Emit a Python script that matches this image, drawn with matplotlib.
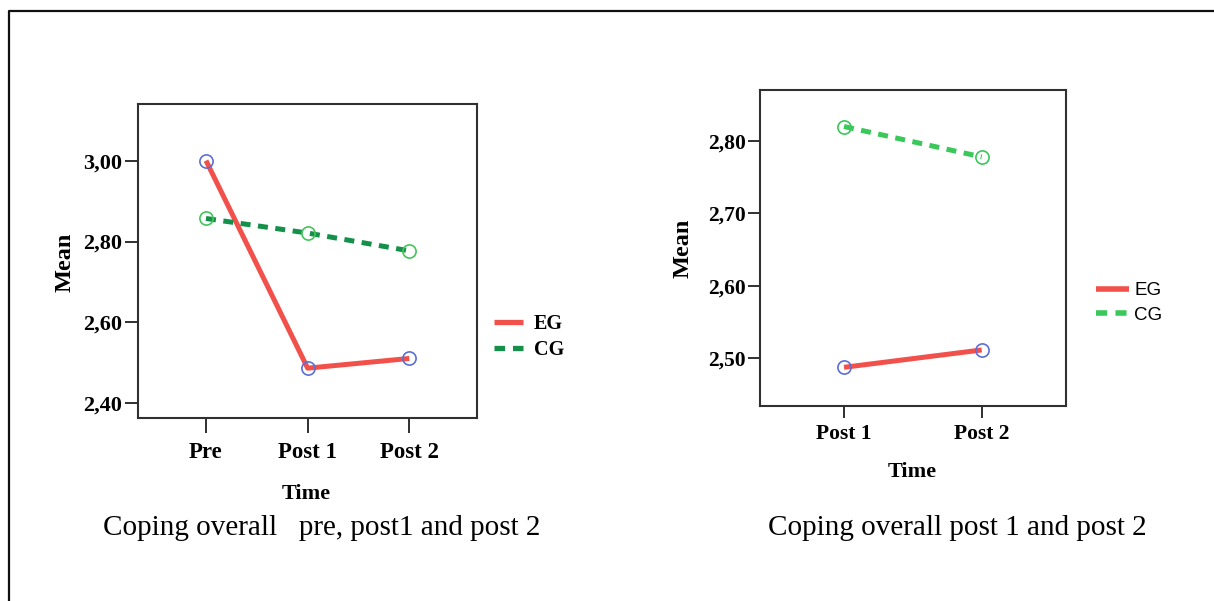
import matplotlib
matplotlib.use("Agg")
import matplotlib.pyplot as plt
from matplotlib.lines import Line2D

# ---- data ----
times_left = ["Pre", "Post 1", "Post 2"]
eg_left = [3.000, 2.487, 2.511]
cg_left = [2.857, 2.821, 2.777]
yticks_left = [2.40, 2.60, 2.80, 3.00]

times_right = ["Post 1", "Post 2"]
eg_right = [2.487, 2.511]
cg_right = [2.820, 2.778]
yticks_right = [2.50, 2.60, 2.70, 2.80]

series_names = ["EG", "CG"]
caption_left = "Coping overall   pre, post1 and post 2"
caption_right = "Coping overall post 1 and post 2"

W, H = 1214, 601
DPI = 100
fig = plt.figure(figsize=(W / DPI, H / DPI), dpi=DPI)

def fx(px):
    return px / W

def fy(py):
    return 1 - py / H

RED = "#f2514b"
BLUE = "#5b6fd6"
GREEN_DARK = "#14904a"
GREEN_LIGHT = "#45c45c"
GREEN_R = "#3ac85a"
SERIF = "Liberation Serif"
SANS = "Liberation Sans"
SPINE = "#303030"

def fmt(v):
    return f"{v:.2f}".replace(".", ",")

# ---- border (cropped table frame) ----
fig.add_artist(Line2D([fx(9.3), fx(9.3), fx(1214)], [fy(601), fy(10.7), fy(10.7)],
                      transform=fig.transFigure, color="#111111", lw=1.6))

# ---- left panel ----
axL = fig.add_axes([fx(138.3), fy(417.5), fx(477.3) - fx(138.3), fy(104) - fy(417.5)])
xl = list(range(len(times_left)))
axL.plot(xl, eg_left, color=RED, lw=3.6, solid_capstyle="butt", zorder=3)
axL.plot(xl, cg_left, color=GREEN_DARK, lw=3.6, dashes=(2.0, 1.5), zorder=3)
axL.plot(xl, eg_left, ls="none", marker="o", ms=9.5, mfc="none", mec=BLUE, mew=1.2, zorder=4)
axL.plot(xl, cg_left, ls="none", marker="o", ms=9.5, mfc="none", mec=GREEN_LIGHT, mew=1.2, zorder=4)
axL.set_xlim(-0.666, 2.669)
axL.set_ylim(2.365, 3.140)
axL.set_xticks(xl)
axL.set_xticklabels(times_left, fontfamily=SERIF, fontweight="bold", fontsize=16.5)
axL.set_yticks(yticks_left)
axL.set_yticklabels([fmt(v) for v in yticks_left], fontfamily=SERIF, fontweight="bold", fontsize=16)
axL.tick_params(axis="x", length=10.5, width=1.4, color=SPINE, pad=7.5)
axL.tick_params(axis="y", length=9.5, width=1.4, color=SPINE, pad=2)
for s in axL.spines.values():
    s.set_color(SPINE)
    s.set_linewidth(1.5)

axL.legend(
    handles=[Line2D([], [], color=RED, lw=3.8, solid_capstyle="butt"),
             Line2D([], [], color=GREEN_DARK, lw=3.8, dashes=(2.0, 1.5))],
    labels=series_names, loc="center left", bbox_to_anchor=(fx(493.7), fy(336.8)),
    bbox_transform=fig.transFigure, frameon=False, borderpad=0, borderaxespad=0,
    handlelength=1.45, handletextpad=0.55, labelspacing=0.3,
    prop={"family": SERIF, "weight": "bold", "size": 14.5})

fig.text(fx(65), fy(262), "Mean", rotation=90, ha="center", va="center",
         fontfamily=SERIF, fontweight="bold", fontsize=17.5)
fig.text(fx(306.7), fy(494.3), "Time", ha="center", va="center",
         fontfamily=SERIF, fontweight="bold", fontsize=16)
fig.text(fx(103.3), fy(528), caption_left, ha="left", va="center",
         fontfamily=SERIF, fontsize=21)

# ---- right panel ----
axR = fig.add_axes([fx(760), fy(406), fx(1066) - fx(760), fy(90) - fy(406)])
xr = list(range(len(times_right)))
axR.plot(xr, eg_right, color=RED, lw=3.6, solid_capstyle="butt", zorder=3)
axR.plot(xr, cg_right, color=GREEN_R, lw=3.6, dashes=(2.0, 1.5), zorder=3)
axR.plot(xr, eg_right, ls="none", marker="o", ms=9.5, mfc="none", mec=BLUE, mew=1.2, zorder=4)
axR.plot(xr, cg_right, ls="none", marker="o", ms=9.5, mfc="none", mec=GREEN_R, mew=1.2, zorder=4)
axR.set_xlim(-0.61, 1.612)
axR.set_ylim(2.4335, 2.8705)
axR.set_xticks(xr)
axR.set_xticklabels(times_right, fontfamily=SERIF, fontweight="bold", fontsize=15.5)
axR.set_yticks(yticks_right)
axR.set_yticklabels([fmt(v) for v in yticks_right], fontfamily=SERIF, fontweight="bold", fontsize=15.5)
axR.tick_params(axis="x", length=8.5, width=1.4, color=SPINE, pad=4.5)
axR.tick_params(axis="y", length=8.5, width=1.4, color=SPINE, pad=1.5)
for s in axR.spines.values():
    s.set_color(SPINE)
    s.set_linewidth(1.5)

axR.legend(
    handles=[Line2D([], [], color=RED, lw=4.0, solid_capstyle="butt"),
             Line2D([], [], color=GREEN_R, lw=4.0, dashes=(2.0, 1.5))],
    labels=series_names, loc="center left", bbox_to_anchor=(fx(1096), fy(302.9)),
    bbox_transform=fig.transFigure, frameon=False, borderpad=0, borderaxespad=0,
    handlelength=1.75, handletextpad=0.3, labelspacing=0.4,
    prop={"family": SANS, "size": 13.5})

fig.text(fx(683), fy(248), "Mean", rotation=90, ha="center", va="center",
         fontfamily=SERIF, fontweight="bold", fontsize=17.5)
fig.text(fx(912.3), fy(471.7), "Time", ha="center", va="center",
         fontfamily=SERIF, fontweight="bold", fontsize=16)
fig.text(fx(768), fy(528), caption_right, ha="left", va="center",
         fontfamily=SERIF, fontsize=21)

fig.savefig("out.png", dpi=DPI, facecolor="white")
